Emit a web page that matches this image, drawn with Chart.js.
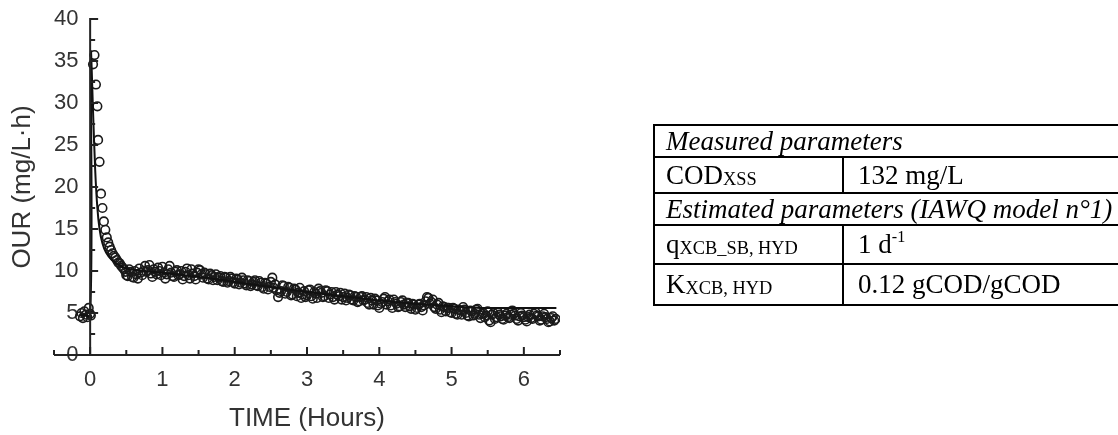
<!DOCTYPE html>
<html>
<head>
<meta charset="utf-8">
<script src="https://cdn.jsdelivr.net/npm/chart.js@4.4.1/dist/chart.umd.min.js"></script>
<style>
  html, body { margin: 0; padding: 0; background: #fff; overflow: hidden; }
  #wrap { position: relative; width: 1118px; height: 435px; }
  #chart { position: absolute; left: 0; top: 0; }
  #params {
    position: absolute; left: 653px; top: 124px; width: 472px;
    border-collapse: collapse; font-family: "Liberation Serif", "Times New Roman", serif;
    font-size: 27px; color: #000; line-height: 1;
  }
  #params td { border: 2px solid #000; padding: 0 0 0 11px; white-space: nowrap; vertical-align: middle; }
  #params td.c2 { padding-left: 14px; }
  #params td.it { font-style: italic; }
  #params .sub { font-size: 0.68em; position: relative; top: 0.08em; }
  #params sup { font-size: 0.6em; position: relative; top: -0.1em; vertical-align: top; }
  #params tr.r1 td { height: 30px; }
  #params tr.r2 td { height: 34px; }
  #params tr.r3 td { height: 30px; }
  #params tr.r4 td { height: 37px; }
  #params tr.r5 td { height: 39px; }
</style>
</head>
<body>
<div id="wrap">
  <canvas id="chart" width="1118" height="435"></canvas>
  <table id="params">
    <tr class="r1"><td colspan="2" class="it">Measured parameters</td></tr>
    <tr class="r2"><td style="width:176px">COD<span class="sub">XSS</span></td><td class="c2">132 mg/L</td></tr>
    <tr class="r3"><td colspan="2" class="it">Estimated parameters (IAWQ model n°1)</td></tr>
    <tr class="r4"><td>q<span class="sub">XCB_SB, HYD</span></td><td class="c2">1 d<sup>-1</sup></td></tr>
    <tr class="r5"><td>K<span class="sub">XCB, HYD</span></td><td class="c2">0.12 gCOD/gCOD</td></tr>
  </table>
</div>
<script>
// ---- Data ----
const measuredTime = [
  -0.14, -0.12, -0.10, -0.08, -0.06, -0.04, -0.02, 0.00, 0.01,
  0.04, 0.06, 0.08, 0.10, 0.11, 0.13, 0.15, 0.17, 0.19, 0.21, 0.23, 0.25, 0.27, 0.29,
  0.31, 0.33, 0.35, 0.37, 0.39, 0.41, 0.43, 0.45, 0.47, 0.49,
  0.50, 0.52, 0.54, 0.56, 0.58, 0.60, 0.62, 0.64, 0.66, 0.68, 0.70, 0.72, 0.74, 0.76, 0.78,
  0.80, 0.82, 0.84, 0.86, 0.88, 0.90, 0.92, 0.94, 0.96, 0.98,
  1.00, 1.02, 1.04, 1.06, 1.08, 1.10, 1.12, 1.14, 1.16, 1.18, 1.20, 1.22, 1.24, 1.26, 1.28,
  1.30, 1.32, 1.34, 1.36, 1.38, 1.40, 1.42, 1.44, 1.46, 1.48,
  1.50, 1.52, 1.54, 1.56, 1.58, 1.60, 1.62, 1.64, 1.66, 1.68, 1.70, 1.72, 1.74, 1.76, 1.78,
  1.80, 1.82, 1.84, 1.86, 1.88, 1.90, 1.92, 1.94, 1.96, 1.98,
  2.00, 2.02, 2.04, 2.06, 2.08, 2.10, 2.12, 2.14, 2.16, 2.18, 2.20, 2.22, 2.24, 2.26, 2.28,
  2.30, 2.32, 2.34, 2.36, 2.38, 2.40, 2.42, 2.44, 2.46, 2.48,
  2.50, 2.52, 2.54, 2.56, 2.58, 2.60, 2.62, 2.64, 2.66, 2.68, 2.70, 2.72, 2.74, 2.76, 2.78,
  2.80, 2.82, 2.84, 2.86, 2.88, 2.90, 2.92, 2.94, 2.96, 2.98,
  3.00, 3.02, 3.04, 3.06, 3.08, 3.10, 3.12, 3.14, 3.16, 3.18, 3.20, 3.22, 3.24, 3.26, 3.28,
  3.30, 3.32, 3.34, 3.36, 3.38, 3.40, 3.42, 3.44, 3.46, 3.48,
  3.50, 3.52, 3.54, 3.56, 3.58, 3.60, 3.62, 3.64, 3.66, 3.68, 3.70, 3.72, 3.74, 3.76, 3.78,
  3.80, 3.82, 3.84, 3.86, 3.88, 3.90, 3.92, 3.94, 3.96, 3.98,
  4.00, 4.02, 4.04, 4.06, 4.08, 4.10, 4.12, 4.14, 4.16, 4.18, 4.20, 4.22, 4.24, 4.26, 4.28,
  4.30, 4.32, 4.34, 4.36, 4.38, 4.40, 4.42, 4.44, 4.46, 4.48,
  4.50, 4.52, 4.54, 4.56, 4.58, 4.60, 4.62, 4.64, 4.66, 4.68, 4.70, 4.72, 4.74, 4.76, 4.78,
  4.80, 4.82, 4.84, 4.86, 4.88, 4.90, 4.92, 4.94, 4.96, 4.98,
  5.00, 5.02, 5.04, 5.06, 5.08, 5.10, 5.12, 5.14, 5.16, 5.18, 5.20, 5.22, 5.24, 5.26, 5.28,
  5.30, 5.32, 5.34, 5.36, 5.38, 5.40, 5.42, 5.44, 5.46, 5.48,
  5.50, 5.52, 5.54, 5.56, 5.58, 5.60, 5.62, 5.64, 5.66, 5.68, 5.70, 5.72, 5.74, 5.76, 5.78,
  5.80, 5.82, 5.84, 5.86, 5.88, 5.90, 5.92, 5.94, 5.96, 5.98,
  6.00, 6.02, 6.04, 6.06, 6.08, 6.10, 6.12, 6.14, 6.16, 6.18, 6.20, 6.22, 6.24, 6.26, 6.28,
  6.30, 6.32, 6.34, 6.36, 6.38, 6.40, 6.42, 6.44
];
const measuredOUR = [
  4.6, 5.0, 4.4, 5.2, 4.8, 4.5, 5.6, 4.9, 4.7,
  34.6, 35.7, 32.2, 29.6, 25.6, 23.0, 19.2, 17.5, 15.9, 14.9, 14.0, 13.4, 12.9, 12.5,
  12.1, 11.8, 11.6, 11.3, 11.0, 10.9, 10.6, 10.4, 10.2, 9.9,
  9.5, 9.4, 10.2, 9.9, 9.3, 9.2, 10.0, 9.6, 9.1, 10.3, 9.8, 9.5, 10.0, 10.6, 9.9,
  10.1, 10.7, 9.7, 9.3, 10.2, 9.9, 9.6, 10.4, 10.0, 9.5,
  10.5, 9.8, 9.1, 9.6, 10.2, 10.6, 9.8, 9.4, 9.3, 9.9, 10.1, 9.5, 9.6, 10.0, 9.0,
  9.4, 9.9, 10.3, 9.5, 9.1, 10.2, 9.7, 9.4, 9.0, 9.8,
  10.2, 10.1, 9.6, 9.2, 9.8, 9.6, 9.1, 9.0, 9.7, 9.5, 8.9, 9.3, 9.6, 8.9, 9.2,
  9.4, 8.8, 8.7, 9.3, 9.2, 8.6, 8.8, 9.3, 9.1, 8.7,
  8.5, 9.1, 9.0, 8.4, 8.6, 9.2, 8.9, 8.5, 8.3, 8.9, 8.8, 8.2, 8.4, 8.7, 8.9,
  8.3, 8.2, 8.8, 8.6, 8.1, 7.9, 8.6, 8.5, 7.8, 8.1,
  8.7, 9.2, 8.0, 8.4, 7.7, 6.9, 7.4, 7.6, 8.3, 8.2, 7.3, 7.5, 8.1, 8.0, 7.1,
  7.2, 7.9, 7.8, 7.0, 7.4, 8.0, 6.8, 7.2, 7.6, 6.9,
  7.1, 7.7, 7.8, 7.0, 6.7, 7.5, 7.3, 6.8, 7.9, 7.6, 7.4, 6.9, 7.0, 7.7, 7.6,
  6.8, 7.2, 7.5, 6.9, 6.6, 7.5, 7.2, 7.0, 7.4, 6.6,
  6.9, 7.3, 6.5, 6.8, 7.2, 7.1, 6.6, 6.5, 7.0, 6.9, 6.3, 6.4, 6.9, 7.0, 6.5,
  6.6, 6.9, 6.2, 6.0, 6.8, 6.5, 6.0, 6.7, 6.5, 5.9,
  5.6, 6.1, 6.3, 6.7, 6.9, 6.0, 6.4, 6.6, 5.9, 5.6, 6.6, 6.3, 6.1, 5.7, 5.8,
  6.3, 6.5, 6.0, 5.7, 6.2, 6.2, 5.8, 5.5, 6.1, 6.0,
  5.4, 5.6, 6.0, 6.1, 5.7, 5.3, 5.9, 6.4, 6.9, 6.8, 6.1, 6.3, 6.6, 5.7, 5.5,
  6.0, 6.2, 5.4, 5.1, 5.8, 5.7, 5.2, 5.6, 5.6, 5.1,
  5.0, 5.6, 5.5, 4.9, 4.8, 5.4, 5.3, 4.8, 5.7, 5.4, 5.0, 4.7, 4.6, 5.3, 5.2,
  4.7, 4.9, 5.4, 5.5, 4.8, 4.4, 4.9, 5.0, 4.5, 4.7,
  5.2, 4.1, 3.9, 4.8, 5.0, 4.3, 4.5, 5.1, 4.8, 4.6, 4.3, 4.2, 4.7, 4.9, 4.5,
  4.4, 4.8, 5.3, 4.9, 4.7, 4.3, 4.1, 4.6, 5.0, 4.7,
  4.5, 4.2, 4.0, 4.5, 4.8, 4.4, 4.3, 4.9, 5.1, 4.7, 4.6, 4.1, 4.2, 4.6, 4.9,
  4.5, 4.3, 3.9, 4.0, 4.4, 4.6, 4.1, 4.3
];
const modelTime = [-0.15, 0.00, 0.01, 0.04, 0.07, 0.10, 0.13, 0.17, 0.22, 0.30, 0.40, 0.50, 0.75,
                   1.00, 1.50, 2.00, 2.50, 3.00, 3.50, 4.00, 4.50, 5.00, 5.40, 6.45];
const modelOUR  = [4.8, 4.8, 36.0, 29.0, 22.0, 17.5, 15.0, 13.3, 12.2, 11.3, 10.7, 10.3, 10.0,
                   9.8, 9.3, 8.7, 8.1, 7.5, 7.0, 6.5, 6.1, 5.8, 5.6, 5.6];
const xTickLabels = [0, 1, 2, 3, 4, 5, 6];
const yTickLabels = [0, 5, 10, 15, 20, 25, 30, 35, 40];
const xMinorTicks = [-0.5, 0.5, 1.5, 2.5, 3.5, 4.5, 5.5, 6.5];
const yMinorTicks = [2.5, 7.5, 12.5, 17.5, 22.5, 27.5, 32.5, 37.5];

const INK = '#222';

const axesPlugin = {
  id: 'customAxes',
  afterDatasetsDraw(chart) {
    const { ctx, scales: { x, y } } = chart;
    ctx.save();
    ctx.strokeStyle = INK;
    ctx.lineWidth = 2;
    ctx.lineCap = 'butt';
    const y0 = y.getPixelForValue(0);
    const x0 = x.getPixelForValue(0);
    ctx.beginPath();
    ctx.moveTo(x.getPixelForValue(-0.5), y0);
    ctx.lineTo(x.getPixelForValue(6.5), y0);
    ctx.stroke();
    ctx.beginPath();
    ctx.moveTo(x0, y0 + 1);
    ctx.lineTo(x0, y.getPixelForValue(40) - 1);
    ctx.stroke();
    xTickLabels.forEach(v => {
      const px = x.getPixelForValue(v);
      ctx.beginPath(); ctx.moveTo(px, y0); ctx.lineTo(px, y0 - 8); ctx.stroke();
    });
    xMinorTicks.forEach(v => {
      const px = x.getPixelForValue(v);
      ctx.beginPath(); ctx.moveTo(px, y0); ctx.lineTo(px, y0 - 5); ctx.stroke();
    });
    yTickLabels.forEach(v => {
      const py = y.getPixelForValue(v);
      ctx.beginPath(); ctx.moveTo(x0, py); ctx.lineTo(x0 + 8, py); ctx.stroke();
    });
    yMinorTicks.forEach(v => {
      const py = y.getPixelForValue(v);
      ctx.beginPath(); ctx.moveTo(x0, py); ctx.lineTo(x0 + 5, py); ctx.stroke();
    });
    ctx.restore();
  }
};

new Chart(document.getElementById('chart'), {
  type: 'scatter',
  data: {
    datasets: [
      {
        label: 'Measured OUR',
        data: measuredTime.map((t, i) => ({ x: t, y: measuredOUR[i] })),
        showLine: false,
        pointStyle: 'circle',
        pointRadius: 4.3,
        pointBorderWidth: 1.6,
        pointBorderColor: '#1a1a1a',
        pointBackgroundColor: 'rgba(255,255,255,0)',
        order: 2
      },
      {
        label: 'Model',
        data: modelTime.map((t, i) => ({ x: t, y: modelOUR[i] })),
        showLine: true,
        pointRadius: 0,
        borderColor: '#111',
        borderWidth: 2,
        tension: 0.3,
        fill: false,
        order: 1
      }
    ]
  },
  options: {
    responsive: false,
    animation: false,
    devicePixelRatio: 1,
    layout: { padding: { left: 0, top: 19, right: 558, bottom: 0 } },
    plugins: { legend: { display: false }, tooltip: { enabled: false } },
    scales: {
      x: {
        type: 'linear', min: -0.5, max: 6.5,
        grid: { display: false, drawTicks: false, tickLength: 0 },
        border: { display: false },
        afterBuildTicks: s => { s.ticks = xTickLabels.map(v => ({ value: v })); },
        afterFit: s => { s.height = 80; },
        ticks: {
          padding: 12, color: '#333',
          font: { family: 'Liberation Sans, Arial, sans-serif', size: 22 },
          callback: v => String(v)
        },
        title: {
          display: true, text: 'TIME (Hours)', color: '#333',
          font: { family: 'Liberation Sans, Arial, sans-serif', size: 26 },
          padding: { top: 0, bottom: 1 }
        }
      },
      y: {
        type: 'linear', min: 0, max: 40,
        grid: { display: false, drawTicks: false, tickLength: 0 },
        border: { display: false },
        afterBuildTicks: s => { s.ticks = yTickLabels.map(v => ({ value: v })); },
        afterFit: s => { s.width = 54; },
        ticks: {
          mirror: true, crossAlign: 'far', padding: 0, color: '#333',
          font: { family: 'Liberation Sans, Arial, sans-serif', size: 22 },
          callback: v => String(v)
        },
        title: {
          display: true, text: 'OUR (mg/L·h)', color: '#333',
          font: { family: 'Liberation Sans, Arial, sans-serif', size: 26 },
          padding: { top: 7, bottom: 0 }
        }
      }
    }
  },
  plugins: [axesPlugin]
});
</script>
</body>
</html>
